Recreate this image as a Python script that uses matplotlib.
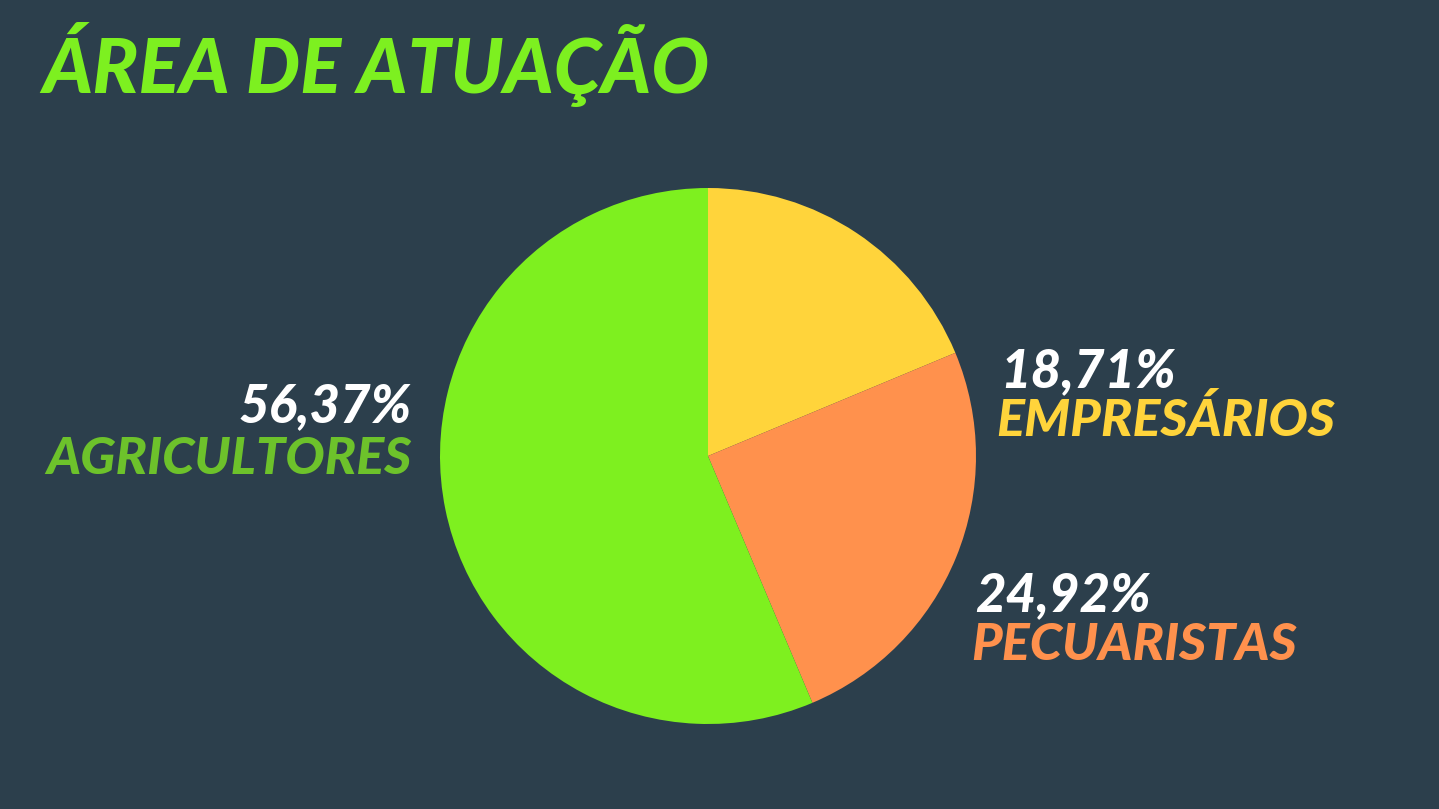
import matplotlib
matplotlib.use("Agg")
import matplotlib.pyplot as plt

categories = ["EMPRESÁRIOS", "PECUARISTAS", "AGRICULTORES"]
values = [18.71, 24.92, 56.37]
pct_labels = ["18,71%", "24,92%", "56,37%"]
title = "ÁREA DE ATUAÇÃO"

bg = "#2C3F4C"
slice_colors = ["#FFD43B", "#FF914D", "#7EF01F"]
label_colors = ["#FFD43B", "#FF914D", "#6DC22B"]

W, H = 1439, 809
fig = plt.figure(figsize=(W / 100, H / 100), dpi=100, facecolor=bg)
ax = fig.add_axes([0, 0, 1, 1])
ax.set_facecolor(bg)

ax.pie(values, colors=slice_colors, startangle=90, counterclock=False,
       center=(708, H - 456), radius=268, frame=True,
       wedgeprops=dict(linewidth=0))
ax.set_xlim(0, W)
ax.set_ylim(0, H)
ax.set_aspect("equal")
ax.axis("off")

font = dict(family=["Lato", "DejaVu Sans"], fontweight="black", style="italic")

ax.text(42, H - 93, title, color="#7DF020", fontsize=55, ha="left", va="baseline", **font)

# label layout: (x, pct baseline y, name baseline y, ha)
layout = {
    "EMPRESÁRIOS": (1000, 387, 436, "left"),
    "PECUARISTAS": (975, 611, 660, "left"),
    "AGRICULTORES": (412, 422, 474, "right"),
}
for cat, pct, lc in zip(categories, pct_labels, label_colors):
    x, yp, yn, ha = layout[cat]
    ax.text(x, H - yp, pct, color="white", fontsize=38, ha=ha, va="baseline", **font)
    ax.text(x - (4 if ha == "left" else 0), H - yn, cat, color=lc, fontsize=37.5,
            ha=ha, va="baseline", **font)

fig.savefig("out.png", dpi=100, facecolor=bg)
